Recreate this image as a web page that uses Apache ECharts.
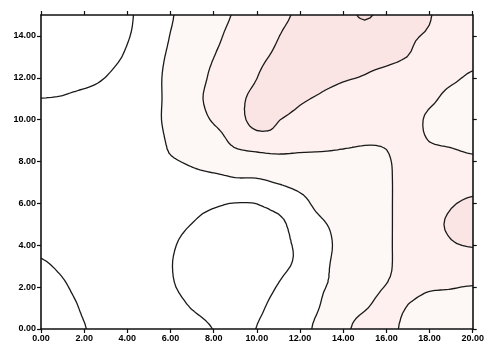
<!DOCTYPE html>
<html>
<head>
<meta charset="utf-8">
<script src="https://cdn.jsdelivr.net/npm/echarts@6/dist/echarts.min.js"></script>
<style>
html, body { margin: 0; padding: 0; background: #fff; }
#chart { width: 487px; height: 348px; }
</style>
</head>
<body>
<div id="chart"></div>
<script>
// grid nodes of the field (x every 1, y every 1)
const xNodes = [0, 1, 2, 3, 4, 5, 6, 7, 8, 9, 10, 11, 12, 13, 14, 15, 16, 17, 18, 19, 20]
const yNodes = [0, 1, 2, 3, 4, 5, 6, 7, 8, 9, 10, 11, 12, 13, 14, 15]

// field values, one row per y node (y = 0 first)
const z = [
  [-0.6, -0.4, -0.05, 0.45, 0.6, 0.6, 0.55, 0.35, -0.02, -0.25, 0.02, 0.45, 0.8, 1.2, 1.8, 2.3, 2.25, 1.79, 1.6, 1.5, 1.4],
  [-0.7, -0.45, 0.14, 0.5, 0.6, 0.55, 0.35, -0.03, -0.3, -0.4, -0.15, 0.29, 0.75, 1.04, 1.6, 1.95, 2.21, 1.97, 1.8, 1.7, 1.6],
  [-0.55, -0.15, 0.39, 0.55, 0.65, 0.5, 0.1, -0.27, -0.45, -0.5, -0.3, 0.05, 0.6, 0.95, 1.2, 1.7, 2.03, 2.16, 2.07, 2.04, 1.95],
  [-0.14, 0.17, 0.5, 0.6, 0.6, 0.35, 0.03, -0.3, -0.5, -0.55, -0.45, -0.19, 0.19, 0.8, 1.29, 1.6, 1.85, 2.45, 2.6, 2.72, 2.75],
  [0.19, 0.4, 0.55, 0.6, 0.55, 0.35, 0.08, -0.22, -0.45, -0.5, -0.45, -0.2, 0.15, 0.75, 1.22, 1.6, 1.85, 2.45, 2.7, 2.95, 3.02],
  [0.3, 0.45, 0.55, 0.6, 0.55, 0.4, 0.2, -0.01, -0.2, -0.3, -0.25, -0.2, 0.43, 0.9, 1.27, 1.6, 1.85, 2.45, 2.8, 3.08, 3.2],
  [0.35, 0.5, 0.55, 0.6, 0.55, 0.45, 0.35, 0.2, 0.09, -0.02, 0.01, 0.3, 0.75, 1.25, 1.45, 1.65, 1.85, 2.45, 2.7, 2.95, 3.1],
  [0.4, 0.5, 0.55, 0.6, 0.6, 0.55, 0.55, 0.67, 0.71, 0.85, 0.87, 1.05, 1.25, 1.4, 1.55, 1.7, 1.85, 2.45, 2.6, 2.65, 2.72],
  [0.45, 0.5, 0.55, 0.6, 0.65, 0.75, 0.92, 1.1, 1.3, 1.45, 1.5, 1.6, 1.65, 1.7, 1.75, 1.8, 1.9, 2.4, 2.35, 2.25, 2.15],
  [0.4, 0.45, 0.5, 0.5, 0.5, 0.55, 1.13, 1.35, 1.56, 2.26, 2.61, 2.74, 2.48, 2.33, 2.17, 2.07, 2.1, 2.32, 1.98, 1.89, 1.78],
  [0.35, 0.4, 0.45, 0.45, 0.5, 0.6, 1.29, 1.55, 2.1, 2.64, 3.27, 3.02, 2.8, 2.6, 2.45, 2.4, 2.4, 2.39, 1.85, 1.7, 1.6],
  [0.01, 0.05, 0.2, 0.3, 0.4, 0.6, 1.27, 1.7, 2.3, 2.77, 3.2, 3.35, 3.1, 2.91, 2.8, 2.7, 2.6, 2.5, 2.16, 1.79, 1.75],
  [-0.3, -0.25, -0.2, 0.01, 0.3, 0.6, 1.26, 1.6, 2.17, 2.6, 2.99, 3.49, 3.5, 3.21, 3.06, 2.96, 2.8, 2.6, 2.4, 2.14, 1.89],
  [-0.5, -0.4, -0.3, -0.2, 0.09, 0.55, 1.15, 1.6, 1.99, 2.49, 2.8, 3.18, 3.6, 3.6, 3.5, 3.23, 3.16, 2.99, 2.7, 2.5, 2.25],
  [-0.7, -0.6, -0.45, -0.3, -0.04, 0.33, 1.03, 1.5, 1.8, 2.29, 2.6, 2.98, 3.38, 3.6, 3.6, 3.55, 3.4, 3.11, 2.92, 2.7, 2.5],
  [-0.8, -0.7, -0.55, -0.35, -0.08, 0.25, 0.9, 1.49, 1.7, 2.08, 2.5, 2.8, 3.15, 3.5, 3.7, 4.1, 3.7, 3.4, 3.04, 2.68, 2.5]
]

// contour levels and axis ticks
const levels = [0, 1, 2, 3, 4]
const xTicks = [0, 2, 4, 6, 8, 10, 12, 14, 16, 18, 20]
const yTicks = [0, 2, 4, 6, 8, 10, 12, 14]

// band fill colours, lowest band first
const bandColors = ['#ffffff', '#ffffff', '#fdf8f6', '#fdf0ee', '#fbe5e4', '#f8dcdc']

// --- smooth the field for drawing (catmull-rom) ---
const dx = xNodes[1] - xNodes[0]
const dy = yNodes[1] - yNodes[0]
function at (i, j) {
  i = Math.max(0, Math.min(xNodes.length - 1, i))
  j = Math.max(0, Math.min(yNodes.length - 1, j))
  return z[j][i]
}
function cr (a, b, c, d, t) {
  return b + 0.5 * t * (c - a + t * (2 * a - 5 * b + 4 * c - d + t * (3 * (b - c) + d - a)))
}
function sample (x, y) {
  const gx = (x - xNodes[0]) / dx
  const gy = (y - yNodes[0]) / dy
  const i = Math.min(Math.floor(gx), xNodes.length - 2)
  const j = Math.min(Math.floor(gy), yNodes.length - 2)
  const tx = gx - i
  const ty = gy - j
  const col = []
  for (let k = -1; k <= 2; k++) {
    col.push(cr(at(i - 1, j + k), at(i, j + k), at(i + 1, j + k), at(i + 2, j + k), tx))
  }
  return cr(col[0], col[1], col[2], col[3], ty)
}

const sub = 4
const nx = (xNodes.length - 1) * sub + 1
const ny = (yNodes.length - 1) * sub + 1
const fine = []
for (let j = 0; j < ny; j++) {
  const r = []
  for (let i = 0; i < nx; i++) {
    const x = xNodes[0] + i * dx / sub
    const y = yNodes[0] + j * dy / sub
    r.push([x, y, sample(x, y)])
  }
  fine.push(r)
}

function bandOf (v) {
  let b = 0
  while (b < levels.length && v >= levels[b]) b++
  return b
}
function clip (poly, c, sign) {
  const out = []
  for (let k = 0; k < poly.length; k++) {
    const p = poly[k]
    const q = poly[(k + 1) % poly.length]
    const dp = sign * (p[2] - c)
    const dq = sign * (q[2] - c)
    if (dp >= 0) out.push(p)
    if ((dp >= 0) !== (dq >= 0)) {
      const t = dp / (dp - dq)
      out.push([p[0] + t * (q[0] - p[0]), p[1] + t * (q[1] - p[1]), c])
    }
  }
  return out
}

// band polygons and contour segments, in data coordinates
const bandPolys = bandColors.map(() => [])
const levelSegs = levels.map(() => [])
for (let j = 0; j < ny - 1; j++) {
  for (let i = 0; i < nx - 1; i++) {
    const a = fine[j][i]
    const b = fine[j][i + 1]
    const c = fine[j + 1][i + 1]
    const d = fine[j + 1][i]
    for (const tri of [[a, b, c], [a, c, d]]) {
      const vs = tri.map(p => p[2])
      const vmin = Math.min(...vs)
      const vmax = Math.max(...vs)
      const b0 = bandOf(vmin)
      const b1 = bandOf(vmax)
      if (b0 === b1) {
        bandPolys[b0].push(tri)
      } else {
        for (let bb = b0; bb <= b1; bb++) {
          let poly = tri
          if (bb > 0) poly = clip(poly, levels[bb - 1], 1)
          if (bb < levels.length && poly.length) poly = clip(poly, levels[bb], -1)
          if (poly.length >= 3) bandPolys[bb].push(poly)
        }
      }
      levels.forEach((lv, li) => {
        if (!(vmin < lv && lv < vmax)) return
        const pts = []
        for (let k = 0; k < 3; k++) {
          const p = tri[k]
          const q = tri[(k + 1) % 3]
          if ((p[2] < lv) !== (q[2] < lv)) {
            const t = (lv - p[2]) / (q[2] - p[2])
            pts.push([p[0] + t * (q[0] - p[0]), p[1] + t * (q[1] - p[1])])
          }
        }
        if (pts.length === 2) levelSegs[li].push(pts)
      })
    }
  }
}

const myChart = echarts.init(document.getElementById('chart'))

function renderContour (params, api) {
  const children = []
  const px = p => api.coord([p[0], p[1]])
  bandPolys.forEach((polys, bi) => {
    if (!polys.length) return
    let d = ''
    polys.forEach(poly => {
      poly.forEach((p, k) => {
        const q = px(p)
        d += (k ? 'L' : 'M') + q[0].toFixed(2) + ' ' + q[1].toFixed(2)
      })
      d += 'Z'
    })
    children.push({
      type: 'path',
      shape: { pathData: d },
      style: { fill: bandColors[bi], stroke: null }
    })
  })
  levelSegs.forEach(segs => {
    if (!segs.length) return
    let d = ''
    segs.forEach(s => {
      const p = px(s[0])
      const q = px(s[1])
      d += 'M' + p[0].toFixed(2) + ' ' + p[1].toFixed(2) + 'L' + q[0].toFixed(2) + ' ' + q[1].toFixed(2)
    })
    children.push({
      type: 'path',
      shape: { pathData: d },
      style: { fill: null, stroke: '#1a1a1a', lineWidth: 1.3, lineCap: 'round' }
    })
  })
  return { type: 'group', children }
}

const axisLine = { show: true, onZero: false, lineStyle: { color: '#111', width: 1.6 } }
const axisTick = { show: true, inside: false, length: 4, lineStyle: { color: '#111', width: 1.2 } }
const labelStyle = {
  fontSize: 9,
  fontWeight: 'bold',
  fontFamily: 'Liberation Sans',
  color: '#000',
  formatter: v => v.toFixed(2)
}

const option = {
  animation: false,
  backgroundColor: '#fff',
  grid: { left: 41, right: 12, top: 15, bottom: 19 },
  xAxis: [
    {
      type: 'value', min: 0, max: 20, interval: 2, z: 10,
      axisLine,
      axisTick: { ...axisTick, customValues: xTicks },
      axisLabel: { ...labelStyle, margin: 5, customValues: xTicks },
      splitLine: { show: false }
    },
    {
      type: 'value', position: 'top', min: 0, max: 20, interval: 2, z: 10,
      axisLine,
      axisTick: { ...axisTick, customValues: xTicks },
      axisLabel: { show: false },
      splitLine: { show: false }
    }
  ],
  yAxis: [
    {
      type: 'value', min: 0, max: 15, interval: 1, z: 10,
      axisLine,
      axisTick: { ...axisTick, customValues: yTicks },
      axisLabel: { ...labelStyle, margin: 5, customValues: yTicks },
      splitLine: { show: false }
    },
    {
      type: 'value', position: 'right', min: 0, max: 15, interval: 1, z: 10,
      axisLine,
      axisTick: { ...axisTick, customValues: yTicks },
      axisLabel: { show: false },
      splitLine: { show: false }
    }
  ],
  series: [
    {
      type: 'custom',
      coordinateSystem: 'cartesian2d',
      xAxisIndex: 0,
      yAxisIndex: 0,
      silent: true,
      clip: true,
      z: 1,
      data: [[0, 0]],
      renderItem: renderContour
    }
  ]
}
myChart.setOption(option)
</script>
</body>
</html>
